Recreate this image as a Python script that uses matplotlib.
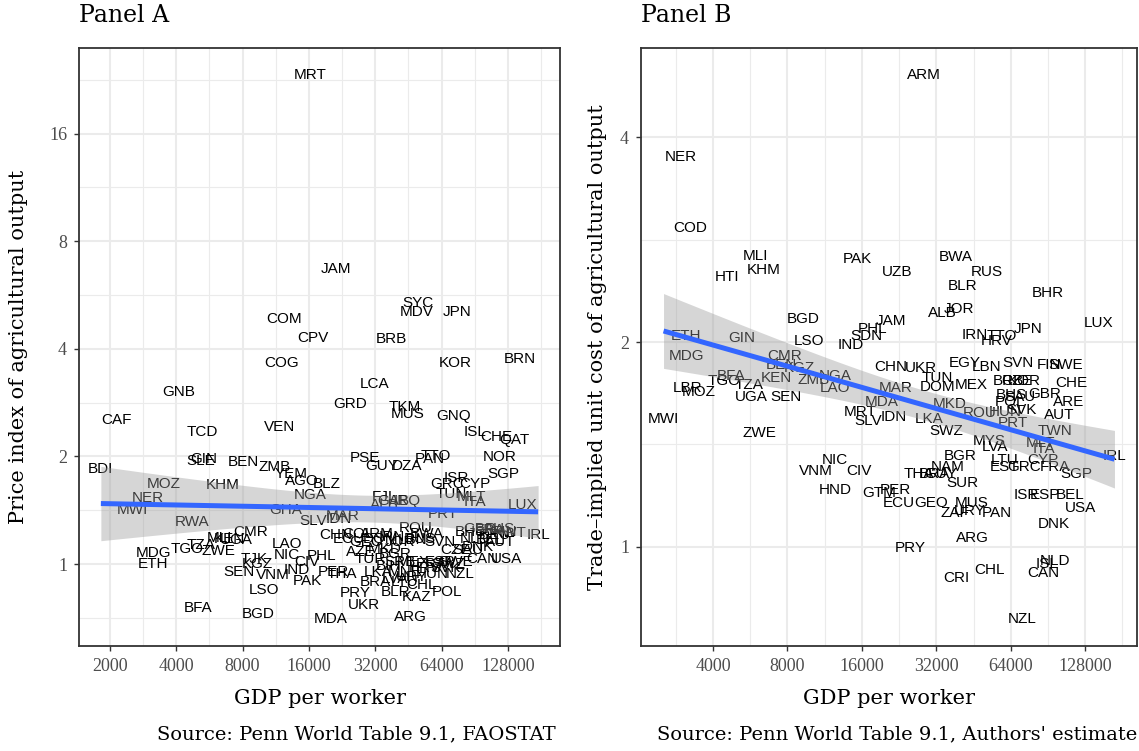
import numpy as np
import matplotlib
matplotlib.use("Agg")
import matplotlib.pyplot as plt
from matplotlib.ticker import FixedLocator, FixedFormatter, NullFormatter

# ---------------- Panel A data: GDP per worker vs price index ----------------
a_codes = ["MRT","JAM","SYC","MDV","JPN","COM","CPV","BRB","COG","KOR","BRN","LCA","GNB","GRD",
           "TKM","MUS","GNQ","CAF","TCD","VEN","ISL","CHE","QAT","BDI","GIN","SLE","BEN","ZMB",
           "YEM","AGO","BLZ","MOZ","KHM","NGA","NER","MWI","GHA","SLV","RWA","CMR","MLI","KEN",
           "UGA","TGO","TZA","ZWE","MDG","ETH","LAO","NIC","TJK","KGZ","SEN","VNM","IND","CIV",
           "PAK","LSO","BFA","BGD","MDA","ARG","UKR","PRY","POL","KAZ","BLR","CHL","BRA","PSE",
           "GUY","DZA","TTO","PAN","NOR","SGP","ISR","GRC","CYP","TUN","MLT","ITA","LUX","FJI",
           "GAB","IRQ","ALB","PRT","IRL","USA","CAN","IDN","MAR","CHN","PHL","ROU","PER","THA",
           "LKA","COL","ARM","IRN","AZE","TUR","MEX","ESP","NZL","DOM","ECU","GEO","JOR","LBN",
           "RUS","BWA","MKD","BGR","SRB","BIH","MNE","HRV","URY","HUN","LVA","LTU","EST","SVK",
           "CZE","SVN","SWZ","SWE","GBR","FRA","AUS","FIN","DEU","NLD","BEL","AUT","DNK","BHS",
           "SAU","KWT"]
a_gdp = [16250,21300,50100,49400,75300,12360,16600,37700,12000,73500,145600,31700,4120,24700,
         43500,45100,72400,2150,5260,11760,90700,113800,137600,1820,5330,5160,8030,11200,
         13300,14900,19350,3520,6500,16250,2960,2530,12600,16770,4700,8700,6300,6990,
         7520,4460,5160,6250,3170,3150,12700,12770,9000,9330,7700,11000,14150,15700,
         15700,9990,5020,9420,20000,46100,28300,26000,67500,49400,39400,52100,32000,28800,
         34300,44500,60400,56800,116900,121900,75000,67500,90700,71200,87900,90700,149200,34300,
         38600,44700,35100,65200,175600,126300,97600,21800,22700,21100,18350,48600,20650,22700,
         33000,26800,32600,38200,27400,30400,47700,63000,77600,33700,24200,29100,41500,47100,
         51200,55000,35500,39400,41500,36700,43700,53900,47100,58000,39400,43700,56800,66400,
         73700,63000,68500,74400,95600,106100,117800,124100,111800,90700,106100,117800,93600,86200,
         84400,130700]
a_price = [23.3,6.70,5.38,5.06,5.06,4.86,4.30,4.25,3.66,3.64,3.74,3.18,3.02,2.81,
           2.75,2.63,2.60,2.53,2.34,2.42,2.34,2.27,2.22,1.849,1.968,1.943,1.930,1.869,
           1.790,1.704,1.678,1.678,1.661,1.564,1.530,1.419,1.414,1.320,1.311,1.229,1.183,1.175,
           1.167,1.104,1.133,1.087,1.073,1.000,1.140,1.058,1.035,1.000,0.950,0.930,0.960,1.013,
           0.894,0.844,0.754,0.726,0.703,0.711,0.766,0.831,0.835,0.808,0.835,0.872,0.890,1.981,
           1.881,1.881,2.007,1.964,1.993,1.790,1.741,1.678,1.678,1.574,1.540,1.492,1.460,1.540,
           1.498,1.498,1.463,1.383,1.203,1.035,1.035,1.334,1.363,1.208,1.053,1.261,0.950,0.938,
           0.950,1.213,1.216,1.190,1.080,1.035,1.013,1.013,0.939,1.175,1.175,1.152,1.152,1.167,
           1.175,1.213,1.102,1.066,1.013,0.987,0.950,0.975,0.920,0.938,0.908,0.890,1.000,0.975,
           1.094,1.152,1.000,1.013,1.253,1.245,1.253,1.229,1.206,1.175,1.167,1.152,1.116,1.229,
           1.094,1.221]

# ---------------- Panel B data: GDP per worker vs trade-implied unit cost ----------------
b_codes = ["ARM","NER","COD","MLI","KHM","HTI","PAK","UZB","BWA","RUS","BLR","BHR","JOR","ALB",
           "JAM","PHL","SDN","LUX","JPN","IRN","TTO","HRV","BGD","LSO","IND","ETH","GIN","MDG",
           "CMR","BEN","KGZ","ZMB","NGA","LAO","KEN","BFA","TGO","TZA","LBR","MOZ","UGA","SEN",
           "MWI","ZWE","MRT","SLV","MDA","CHN","UKR","EGY","LBN","SVN","FIN","SWE","TUN","DOM",
           "MEX","BRB","KOR","CZE","CHE","MAR","BHS","GBR","SAU","POL","SVK","ARE","AUT","ROU",
           "HUN","PRT","MKD","IDN","LKA","SWZ","TWN","MYS","LVA","MLT","ITA","IRL","LTU","CYP",
           "EST","GRC","FRA","SGP","BGR","NAM","THA","BRA","GUY","SUR","NIC","VNM","CIV","HND",
           "GTM","PER","ECU","GEO","MUS","ZAF","URY","PAN","ISR","ESP","BEL","USA","DNK","ARG",
           "PRY","NLD","ISL","CAN","CHL","CRI","NZL"]
b_gdp = [28480,2960,3250,5970,6420,4580,15280,22250,38480,51000,40700,90200,39700,33950,
         20900,17650,16680,144700,75400,45700,58700,56000,9250,9790,14480,3100,5240,3120,
         7790,7580,8970,10170,12460,12460,7210,4720,4440,5610,3170,3510,5700,7920,
         2525,6160,15760,17040,19320,20900,27700,41600,51000,68700,91000,106400,32400,32400,
         44300,62500,72800,67600,112600,21900,64500,87900,69500,63300,70800,109800,100300,47900,
         60600,65500,36100,21550,29900,35000,96900,52200,55500,84700,86900,168100,60400,86300,
         60600,72200,96900,117600,40100,35600,27250,31400,33400,40960,12460,10400,15500,12460,
         18720,21900,22600,30400,44300,37900,43600,56000,74200,88200,111500,122500,95400,44700,
         25200,96900,89600,86900,52600,38480,71300]
b_cost = [4.94,3.74,2.94,2.68,2.55,2.49,2.65,2.54,2.67,2.54,2.42,2.36,2.24,2.21,
          2.15,2.09,2.04,2.13,2.09,2.05,2.04,2.01,2.16,2.01,1.98,2.04,2.03,1.91,
          1.91,1.85,1.83,1.76,1.78,1.71,1.77,1.78,1.75,1.73,1.71,1.69,1.66,1.66,
          1.54,1.47,1.58,1.53,1.63,1.84,1.83,1.86,1.84,1.86,1.85,1.85,1.77,1.72,
          1.73,1.75,1.75,1.75,1.74,1.71,1.67,1.68,1.66,1.63,1.59,1.63,1.56,1.57,
          1.58,1.52,1.62,1.55,1.54,1.48,1.48,1.43,1.40,1.42,1.39,1.36,1.34,1.34,
          1.31,1.31,1.31,1.28,1.36,1.31,1.28,1.28,1.28,1.24,1.34,1.29,1.29,1.21,
          1.20,1.21,1.16,1.16,1.16,1.12,1.13,1.12,1.19,1.19,1.19,1.14,1.08,1.03,
          0.997,0.953,0.942,0.913,0.923,0.899,0.783]

a_xticks = [2000, 4000, 8000, 16000, 32000, 64000, 128000]
a_yticks = [1, 2, 4, 8, 16]
b_xticks = [4000, 8000, 16000, 32000, 64000, 128000]
b_yticks = [1, 2, 4]

SERIF = "DejaVu Serif"
TICKFONT = "Liberation Serif"
W, H = 1139, 751

fig = plt.figure(figsize=(W / 100, H / 100), dpi=100)


def box(l, r, t, b):
    return [l / W, 1 - b / H, (r - l) / W, (b - t) / H]


def tcrit(df):
    z = 1.959964
    return z + (z**3 + z) / (4 * df) + (5 * z**5 + 16 * z**3 + 3 * z) / (96 * df**2)


def lims(v):
    lo, hi = v.min(), v.max()
    p = 0.05 * (hi - lo)
    return 2 ** (lo - p), 2 ** (hi + p)


def panel(ax, codes, x, y, xticks, yticks):
    x = np.asarray(x, float)
    y = np.asarray(y, float)
    lx, ly = np.log2(x), np.log2(y)
    ax.set_xscale("log", base=2)
    ax.set_yscale("log", base=2)

    for c, xi, yi in zip(codes, x, y):
        ax.text(xi, yi, c, ha="center", va="center", fontsize=11,
                family="Liberation Sans", color="black", zorder=3)

    n = len(lx)
    b, a = np.polyfit(lx, ly, 1)
    res = ly - (a + b * lx)
    s = np.sqrt((res ** 2).sum() / (n - 2))
    xs = np.linspace(lx.min(), lx.max(), 100)
    se = s * np.sqrt(1 / n + (xs - lx.mean()) ** 2 / ((lx - lx.mean()) ** 2).sum())
    t = tcrit(n - 2)
    yh = a + b * xs
    ax.fill_between(2 ** xs, 2 ** (yh - t * se), 2 ** (yh + t * se),
                    color="#999999", alpha=0.4, lw=0, zorder=4)
    ax.plot(2 ** xs, 2 ** yh, color="#3366FF", lw=3.6, zorder=5, solid_capstyle="butt")

    ax.xaxis.set_major_locator(FixedLocator(xticks))
    ax.xaxis.set_major_formatter(FixedFormatter([str(v) for v in xticks]))
    ax.yaxis.set_major_locator(FixedLocator(yticks))
    ax.yaxis.set_major_formatter(FixedFormatter([str(v) for v in yticks]))
    xmin = [xticks[0] * 2 ** (k - 1.5) for k in range(-1, len(xticks) + 2)]
    ymin = [yticks[0] * 2 ** (k - 1.5) for k in range(-1, len(yticks) + 3)]
    ax.xaxis.set_minor_locator(FixedLocator(xmin))
    ax.yaxis.set_minor_locator(FixedLocator(ymin))
    ax.xaxis.set_minor_formatter(NullFormatter())
    ax.yaxis.set_minor_formatter(NullFormatter())
    ax.set_xlim(*lims(lx))
    ax.set_ylim(*lims(ly))

    ax.grid(which="major", color="#EBEBEB", lw=1.5, zorder=0)
    ax.grid(which="minor", color="#EBEBEB", lw=0.8, zorder=0)
    ax.set_axisbelow(True)
    ax.tick_params(which="major", length=3.6, width=1.0, color="#333333",
                   labelcolor="#4D4D4D", labelsize=13, pad=5)
    ax.tick_params(which="minor", length=0)
    for lab in ax.get_xticklabels() + ax.get_yticklabels():
        lab.set_family(TICKFONT)
    for sp in ax.spines.values():
        sp.set_color("#333333")
        sp.set_linewidth(1.3)


axA = fig.add_axes(box(79, 560, 48, 646))
axB = fig.add_axes(box(641, 1137, 48, 646))
panel(axA, a_codes, a_gdp, a_price, a_xticks, a_yticks)
panel(axB, b_codes, b_gdp, b_cost, b_xticks, b_yticks)

# titles
fig.text(79 / W, 1 - 15 / H, "Panel A", ha="left", va="center", fontsize=17, family=SERIF)
fig.text(641 / W, 1 - 15 / H, "Panel B", ha="left", va="center", fontsize=17, family=SERIF)

# axis titles
fig.text(((79 + 560) / 2) / W, 1 - 698 / H, "GDP per worker", ha="center", va="center",
         fontsize=15, family=SERIF)
fig.text(((641 + 1137) / 2) / W, 1 - 698 / H, "GDP per worker", ha="center", va="center",
         fontsize=15, family=SERIF)
fig.text(19 / W, 1 - 347 / H, "Price index of agricultural output", ha="center", va="center",
         rotation=90, fontsize=15, family=SERIF)
fig.text(597 / W, 1 - 347 / H, "Trade\u2013implied unit cost of agricultural output",
         ha="center", va="center", rotation=90, fontsize=15, family=SERIF)

# captions
fig.text(556 / W, 1 - 734 / H, "Source: Penn World Table 9.1, FAOSTAT", ha="right", va="center",
         fontsize=14, family=SERIF)
fig.text(1137 / W, 1 - 734 / H, "Source: Penn World Table 9.1, Authors' estimate", ha="right",
         va="center", fontsize=14, family=SERIF)

fig.savefig("out.png", dpi=100)
